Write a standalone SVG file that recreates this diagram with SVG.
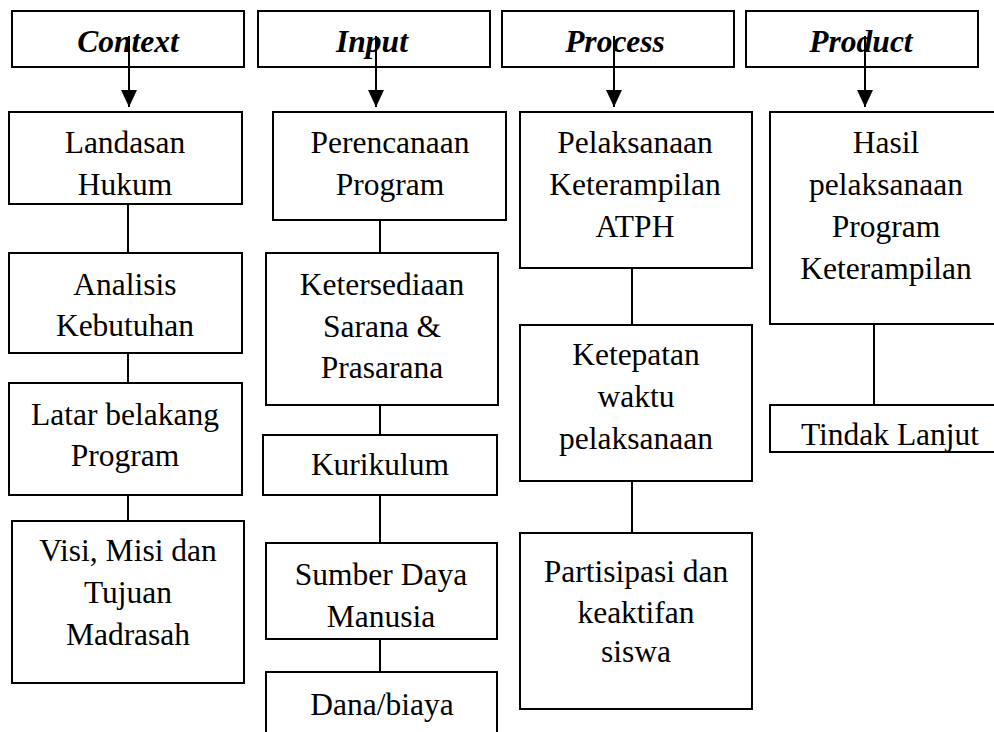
<svg xmlns="http://www.w3.org/2000/svg" width="994" height="732" viewBox="0 0 994 732">
<style>
.b{fill:#fff;stroke:#000;stroke-width:2}
.t{font-family:"Liberation Serif","Times New Roman",serif;font-size:31.5px;fill:#000;text-anchor:middle}
.h{font-weight:bold;font-style:italic}
.c{stroke:#000;stroke-width:2;fill:none}
</style>
<defs>
<marker id="ah" viewBox="0 0 17 16" refX="17" refY="8" markerWidth="17" markerHeight="16" markerUnits="userSpaceOnUse" orient="auto">
<path d="M0,0 L17,8 L0,16 Z" fill="#000"/>
</marker>
</defs>
<rect width="994" height="732" fill="#fff"/>
<g id="context"><rect class="b" x="12" y="11" width="232" height="56"/><text class="t h" x="128" y="52">Context</text></g>
<g id="input"><rect class="b" x="258" y="11" width="232" height="56"/><text class="t h" x="372" y="52">Input</text></g>
<g id="process"><rect class="b" x="502" y="11" width="232" height="56"/><text class="t h" x="615" y="52">Process</text></g>
<g id="product"><rect class="b" x="746" y="11" width="232" height="56"/><text class="t h" x="861" y="52">Product</text></g>

<g id="landasan"><rect class="b" x="9" y="112" width="233" height="92"/><text class="t" x="125" y="153">Landasan</text><text class="t" x="125" y="195">Hukum</text></g>
<g id="analisis"><rect class="b" x="9" y="253" width="233" height="100"/><text class="t" x="125" y="295">Analisis</text><text class="t" x="125" y="336">Kebutuhan</text></g>
<g id="latar"><rect class="b" x="9" y="383" width="233" height="112"/><text class="t" x="125" y="425">Latar belakang</text><text class="t" x="125" y="466">Program</text></g>
<g id="visi"><rect class="b" x="12" y="521" width="232" height="162"/><text class="t" x="128" y="561">Visi, Misi dan</text><text class="t" x="128" y="603">Tujuan</text><text class="t" x="128" y="645">Madrasah</text></g>

<g id="perencanaan"><rect class="b" x="273" y="112" width="233" height="108"/><text class="t" x="390" y="153">Perencanaan</text><text class="t" x="390" y="195">Program</text></g>
<g id="ketersediaan"><rect class="b" x="266" y="253" width="232" height="152"/><text class="t" x="382" y="295">Ketersediaan</text><text class="t" x="382" y="337">Sarana &amp;</text><text class="t" x="382" y="378">Prasarana</text></g>
<g id="kurikulum"><rect class="b" x="263" y="435" width="234" height="60"/><text class="t" x="380" y="475">Kurikulum</text></g>
<g id="sdm"><rect class="b" x="266" y="543" width="231" height="96"/><text class="t" x="381" y="585">Sumber Daya</text><text class="t" x="381" y="627">Manusia</text></g>
<g id="dana"><rect class="b" x="266" y="672" width="231" height="70"/><text class="t" x="382" y="715">Dana/biaya</text></g>

<g id="pelaksanaan"><rect class="b" x="520" y="112" width="232" height="156"/><text class="t" x="635" y="153">Pelaksanaan</text><text class="t" x="635" y="195">Keterampilan</text><text class="t" x="635" y="237">ATPH</text></g>
<g id="ketepatan"><rect class="b" x="520" y="325" width="232" height="156"/><text class="t" x="636" y="365">Ketepatan</text><text class="t" x="636" y="407">waktu</text><text class="t" x="636" y="449">pelaksanaan</text></g>
<g id="partisipasi"><rect class="b" x="520" y="533" width="232" height="176"/><text class="t" x="636" y="582">Partisipasi dan</text><text class="t" x="636" y="623">keaktifan</text><text class="t" x="636" y="662">siswa</text></g>

<g id="hasil"><rect class="b" x="770" y="112" width="232" height="212"/><text class="t" x="886" y="153">Hasil</text><text class="t" x="886" y="195">pelaksanaan</text><text class="t" x="886" y="237">Program</text><text class="t" x="886" y="279">Keterampilan</text></g>
<g id="tindak"><rect class="b" x="770" y="405" width="232" height="47"/><text class="t" x="890" y="445">Tindak Lanjut</text></g>

<g id="connectors">
<line class="c" x1="129" y1="36" x2="129" y2="107" marker-end="url(#ah)"/>
<line class="c" x1="376" y1="36" x2="376" y2="107" marker-end="url(#ah)"/>
<line class="c" x1="614" y1="36" x2="614" y2="107" marker-end="url(#ah)"/>
<line class="c" x1="865" y1="36" x2="865" y2="107" marker-end="url(#ah)"/>
<line class="c" x1="128" y1="204" x2="128" y2="253"/>
<line class="c" x1="128" y1="353" x2="128" y2="383"/>
<line class="c" x1="128" y1="495" x2="128" y2="521"/>
<line class="c" x1="380" y1="220" x2="380" y2="253"/>
<line class="c" x1="380" y1="405" x2="380" y2="435"/>
<line class="c" x1="380" y1="495" x2="380" y2="543"/>
<line class="c" x1="380" y1="639" x2="380" y2="672"/>
<line class="c" x1="632" y1="268" x2="632" y2="325"/>
<line class="c" x1="632" y1="481" x2="632" y2="533"/>
<line class="c" x1="874" y1="324" x2="874" y2="405"/>
</g>
</svg>
